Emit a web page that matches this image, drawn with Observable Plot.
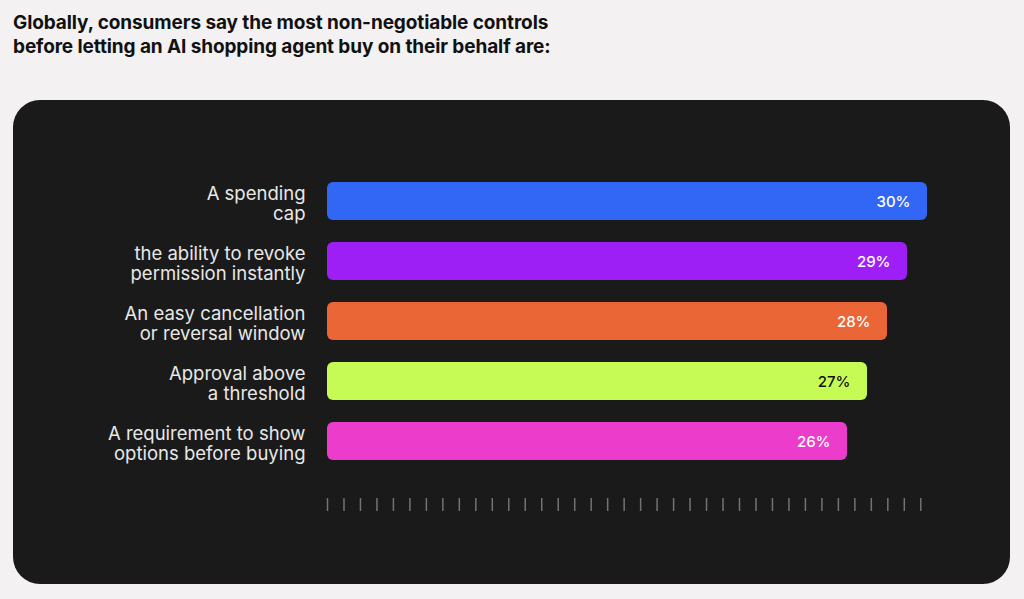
<!DOCTYPE html>
<html>
<head>
<meta charset="utf-8">
<script src="https://cdn.jsdelivr.net/npm/d3@7"></script>
<script src="https://cdn.jsdelivr.net/npm/@observablehq/plot@0.6"></script>
<style>
  html, body { margin: 0; padding: 0; background: #f3f1f2; width: 1024px; height: 599px; overflow: hidden; }
  #title { position: absolute; left: 13px; top: 11px; font-family: Inter, "Noto Sans", sans-serif; font-weight: 700; font-size: 19px; line-height: 24px; color: #111; letter-spacing: -0.1px; }
  #panel { position: absolute; left: 13px; top: 100px; width: 997px; height: 484px; background: #1a1a1a; border-radius: 27px; overflow: hidden; }
</style>
</head>
<body>
<div id="title">Globally, consumers say the most non-negotiable controls<br>before letting an AI shopping agent buy on their behalf are:</div>
<div id="panel"></div>
<script>
const categories = [
  "A spending\ncap",
  "the ability to revoke\npermission instantly",
  "An easy cancellation\nor reversal window",
  "Approval above\na threshold",
  "A requirement to show\noptions before buying"
];
const values = [30, 29, 28, 27, 26];
const barColors = ["#3267f5", "#9e1ff6", "#eb6637", "#c6fa55", "#eb3ccb"];
const valueTextColors = ["#ffffff", "#ffffff", "#ffffff", "#111111", "#ffffff"];
const tickValues = [0, 0.824, 1.648, 2.472, 3.296, 4.12, 4.944, 5.768, 6.592, 7.416, 8.24, 9.064, 9.888, 10.712, 11.536, 12.36, 13.184, 14.008, 14.832, 15.656, 16.48, 17.304, 18.128, 18.952, 19.776, 20.6, 21.424, 22.248, 23.072, 23.896, 24.72, 25.544, 26.368, 27.192, 28.016, 28.84, 29.664];

const data = categories.map((c, i) => ({
  label: c, value: values[i], color: barColors[i], textColor: valueTextColors[i]
}));

const chart = Plot.plot({
  width: 997,
  height: 484,
  marginLeft: 314,
  marginRight: 83,
  marginTop: 70.75,
  marginBottom: 86,
  style: { background: "transparent", fontFamily: "Inter, 'Noto Sans', sans-serif" },
  x: { domain: [0, 30], axis: null },
  y: { domain: categories, paddingInner: 0.375, paddingOuter: 0.1875, insetBottom: 27.25, axis: null },
  marks: [
    Plot.barX(data, { x: "value", y: "label", fill: "color", rx: 6 }),
    Plot.text(data, { x: "value", y: "label", text: d => d.value + "%", textAnchor: "end", dx: -17, fill: "textColor", fontSize: 15, fontWeight: 500, dy: 1 }),
    Plot.axisY({ tickSize: 0, tickPadding: 22, fontSize: 18.5, fill: "#e8e8e8", lineHeight: 1.08, dy: 2, label: null, style: { letterSpacing: "0.6px" } }),
    Plot.axisX({ ticks: tickValues, tickSize: 13, tickFormat: () => "", stroke: "#737373", strokeWidth: 1.5, label: null })
  ]
});
document.getElementById("panel").appendChild(chart);
</script>
</body>
</html>
